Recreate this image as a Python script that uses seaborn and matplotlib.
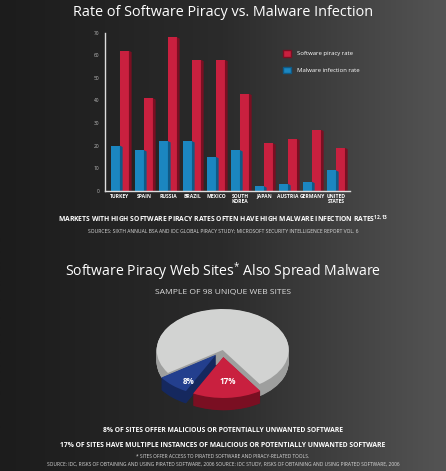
import numpy as np
import pandas as pd
import matplotlib
matplotlib.use("Agg")
import matplotlib.pyplot as plt
import seaborn as sns
from matplotlib.colors import LinearSegmentedColormap
from matplotlib.patches import Patch

# data
countries = ["TURKEY", "SPAIN", "RUSSIA", "BRAZIL", "MEXICO", "SOUTH\nKOREA",
             "JAPAN", "AUSTRIA", "GERMANY", "UNITED\nSTATES"]
piracy_rate = [62, 41, 68, 58, 58, 43, 21, 23, 27, 19]
malware_rate = [20, 18, 22, 22, 15, 18, 2, 3, 4, 9]
series_names = ["Malware infection rate", "Software piracy rate"]
y_ticks = [0, 10, 20, 30, 40, 50, 60, 70]

pie_values = [8, 17, 75]
pie_labels = ["8%", "17%", ""]

RED = "#c9203f"
RED_SIDE = "#7a0f22"
BLUE = "#1b86c0"
NAVY = "#233f8e"
NAVY_SIDE = "#15285e"
GRAY = "#d2d3d2"
GRAY_SIDE = "#9e9f9e"

sns.set_theme(style="white")
plt.rcParams["font.family"] = ["Open Sans", "DejaVu Sans"]

fig = plt.figure(figsize=(4.46, 4.71), dpi=100)

# background gradient
bg = fig.add_axes([0, 0, 1, 1], zorder=-10)
grad = np.linspace(0, 1, 256).reshape(1, -1)
cmap = LinearSegmentedColormap.from_list("bg", ["#1c1c1c", "#2b2b2b", "#545454"])
bg.imshow(grad, aspect="auto", cmap=cmap, extent=[0, 1, 0, 1])
bg.axis("off")

# ---- bar chart ----
df = pd.DataFrame({
    "country": countries * 2,
    "rate": malware_rate + piracy_rate,
    "series": [series_names[0]] * len(countries) + [series_names[1]] * len(countries),
})

ax = fig.add_axes([0.2355, 0.595, 0.549, 0.3356])
ax.patch.set_alpha(0)
sns.barplot(data=df, x="country", y="rate", hue="series", hue_order=series_names,
            palette=[BLUE, RED], width=0.75, saturation=1, ax=ax, legend=False,
            linewidth=0)

# fake 3d side on bars
for p in ax.patches:
    h = p.get_height()
    if h <= 0:
        continue
    x1 = p.get_x() + p.get_width()
    d = p.get_width() * 0.3
    col = RED_SIDE if p.get_facecolor()[0] > 0.5 else "#0f5a86"
    ax.fill([x1, x1 + d, x1 + d, x1], [0, 0, h - 0.6, h], color=col, lw=0, zorder=1)
for p in ax.patches:
    p.set_zorder(2)

ax.set_xlim(-0.62, 9.58)
ax.set_ylim(0, 70)
ax.set_yticks(y_ticks)
ax.set_xlabel("")
ax.set_ylabel("")
ax.tick_params(axis="y", labelsize=3.5, labelcolor="#bbbbbb", length=0, pad=4)
ax.tick_params(axis="x", labelsize=3.6, labelcolor="white", length=0, pad=2)
for t in ax.get_xticklabels():
    t.set_fontweight("bold")
    t.set_linespacing(1.0)
    t.set_va("top")
for s in ["top", "right"]:
    ax.spines[s].set_visible(False)
for s in ["left", "bottom"]:
    ax.spines[s].set_color("#dddddd")
    ax.spines[s].set_linewidth(1)

handles = [Patch(facecolor=RED, edgecolor=RED_SIDE, lw=1),
           Patch(facecolor=BLUE, edgecolor="#0f5a86", lw=1)]
fig.legend(handles, [series_names[1], series_names[0]], loc="upper left",
           bbox_to_anchor=(0.622, 0.905), frameon=False, fontsize=4.3,
           labelcolor="white", handlelength=1.3, handleheight=1.3,
           labelspacing=1.7, handletextpad=1.0)

fig.text(0.5, 0.974, "Rate of Software Piracy vs. Malware Infection",
         color="white", fontsize=10.4, ha="center", va="center")
fig.text(0.5, 0.535,
         "MARKETS WITH HIGH SOFTWARE PIRACY RATES OFTEN HAVE HIGH MALWARE INFECTION RATES$^{\\mathregular{12,13}}$",
         color="white", fontsize=4.85, fontweight="bold", ha="center", va="center")
fig.text(0.5, 0.5096,
         "SOURCES: SIXTH ANNUAL BSA AND IDC GLOBAL PIRACY STUDY; MICROSOFT SECURITY INTELLIGENCE REPORT VOL. 6",
         color="#dddddd", fontsize=3.6, ha="center", va="center")

# ---- 3d pie ----
pax = fig.add_axes([0.3217, 0.1176, 0.3552, 0.2437])
pax.patch.set_alpha(0)
explode = [0.15, 0.17, 0]
start = -146
depth = 0.3
for k in np.linspace(depth, 0.01, 30):
    pax.pie(pie_values, colors=[NAVY_SIDE, RED_SIDE, GRAY_SIDE], startangle=start,
            explode=explode, center=(0, -k), wedgeprops={"linewidth": 0})
wedges, texts = pax.pie(pie_values, colors=[NAVY, RED, GRAY], startangle=start,
                        explode=explode, labels=pie_labels, labeldistance=0.6,
                        wedgeprops={"linewidth": 0},
                        textprops={"color": "white", "fontsize": 5.8, "fontweight": "bold",
                                   "ha": "center", "va": "center"})
texts[0].set_position((-0.52, -0.78))
texts[1].set_position((0.07, -0.78))
pax.set_aspect("auto")
pax.set_xlim(-1.2, 1.2)
pax.set_ylim(-1.6, 1.2)
pax.axis("off")

fig.text(0.5, 0.4246, "Software Piracy Web Sites$^{\\mathregular{*}}$ Also Spread Malware",
         color="white", fontsize=10.1, ha="center", va="center")
fig.text(0.5, 0.38, "SAMPLE OF 98 UNIQUE WEB SITES",
         color="#dddddd", fontsize=6.1, ha="center", va="center")

fig.text(0.5, 0.087, "8% OF SITES OFFER MALICIOUS OR POTENTIALLY UNWANTED SOFTWARE",
         color="white", fontsize=4.85, fontweight="bold", ha="center", va="center")
fig.text(0.5, 0.0552,
         "17% OF SITES HAVE MULTIPLE INSTANCES OF MALICIOUS OR POTENTIALLY UNWANTED SOFTWARE",
         color="white", fontsize=4.85, fontweight="bold", ha="center", va="center")
fig.text(0.5, 0.0318, "* SITES OFFER ACCESS TO PIRATED SOFTWARE AND PIRACY-RELATED TOOLS.",
         color="#dddddd", fontsize=3.5, ha="center", va="center")
fig.text(0.5, 0.0149,
         "SOURCE: IDC, RISKS OF OBTAINING AND USING PIRATED SOFTWARE, 2006 SOURCE: IDC STUDY, RISKS OF OBTAINING AND USING PIRATED SOFTWARE, 2006",
         color="#dddddd", fontsize=3.5, ha="center", va="center")

fig.savefig("out.png", dpi=100)
